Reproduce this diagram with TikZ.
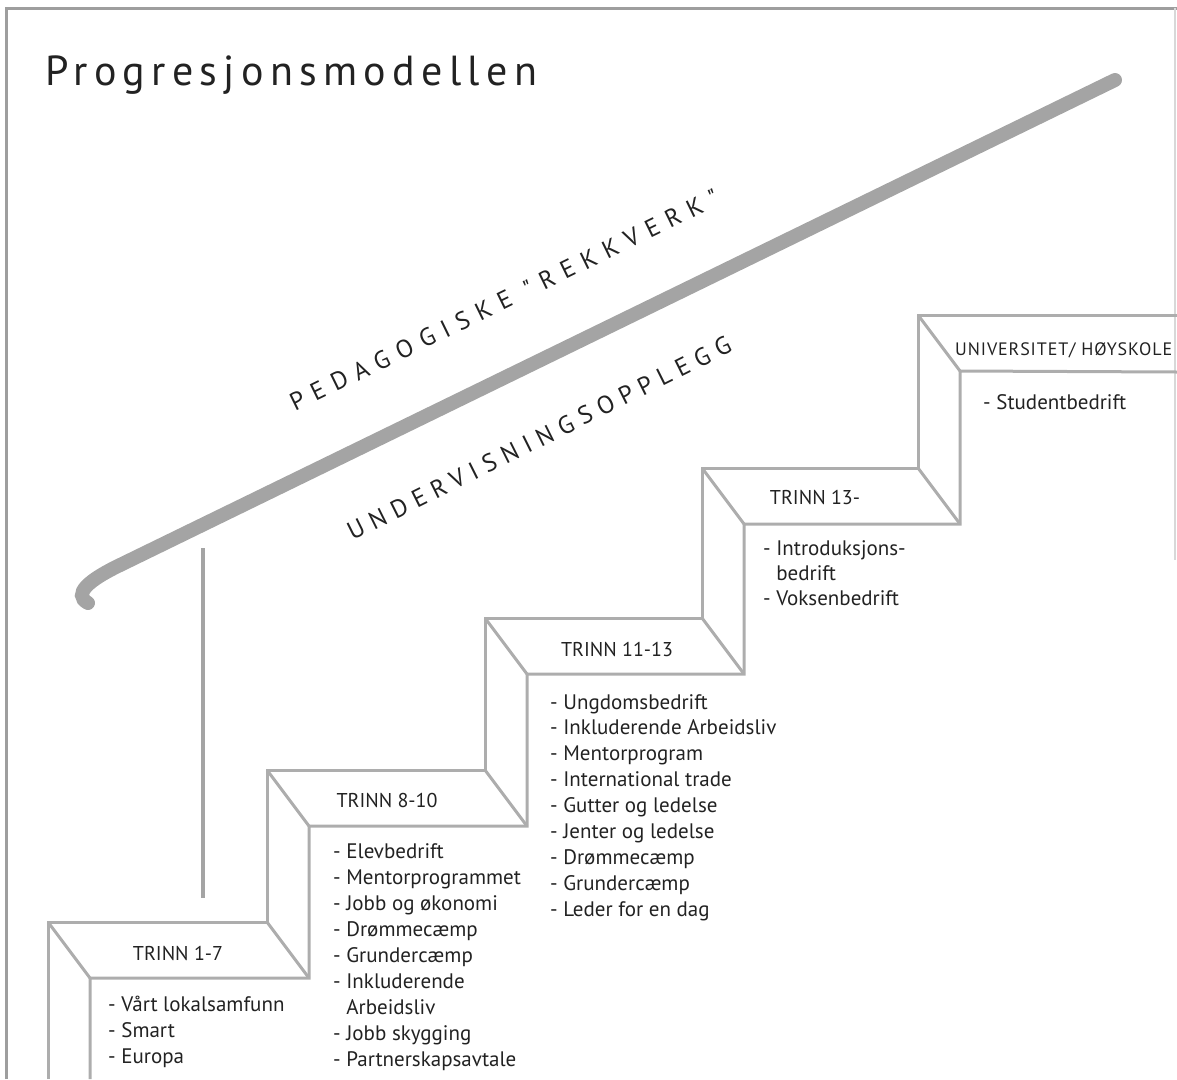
\documentclass[tikz,border=0pt]{standalone}
\usepackage{fontspec}
\setmainfont{PT Sans}
\newfontfamily\titlefont[LetterSpace=15]{PT Sans}
\newfontfamily\railfont[LetterSpace=36]{PT Sans}
\newfontfamily\teachfont[LetterSpace=30]{PT Sans}
\newfontfamily\unifont[LetterSpace=5]{PT Sans}
\usetikzlibrary{calc}
\definecolor{railgrey}{HTML}{A4A4A4}
\definecolor{linegrey}{HTML}{ADADAD}
\definecolor{framegrey}{HTML}{9E9E9E}
\definecolor{textgrey}{HTML}{222222}

\begin{document}
\begin{tikzpicture}[x=1pt,y=-1pt,
	stairline/.style={draw=linegrey, line width=3pt},
	item/.style={anchor=base west, inner sep=0pt, text=textgrey},
	stepname/.style={anchor=base, inner sep=0pt, text=textgrey}]
	\newcommand{\myfontlist}[1]{
		\fontsize{21}{24}\selectfont{#1}
	}\newcommand{\myfontstep}[1]{
		\fontsize{20}{24}\selectfont{#1}
	}%Page
	\useasboundingbox (0,0) rectangle (1177,1079);
	\draw[framegrey, line width=3pt] (6,1079) -- (6,8) -- (1177,8);
	\draw[framegrey!40, line width=1.5pt] (1175,8) -- (1175,560);
	%Title
	\node[anchor=base west, inner sep=0pt, text=textgrey] (title) at (45,85) {\titlefont\fontsize{42}{48}\selectfont Progresjonsmodellen};
	%Back corners of the steps, front corners lie below and to the right
	\foreach \i/\x/\y in {1/48/922, 2/267/770, 3/485/618, 4/702/468, 5/918/315} {
		\coordinate (B\i) at (\x,\y);
		\coordinate (F\i) at ($(B\i)+(42,56)$);
	}
	%Back line of the stair
	\draw[stairline] (48,1079) -- (B1) -- (B2 |- B1) -- (B2) -- (B3 |- B2) -- (B3)
		-- (B4 |- B3) -- (B4) -- (B5 |- B4) -- (B5) -- (1177,315);
	%Front line of the stair
	\draw[stairline] (90,1079) -- (F1) -- (F2 |- F1) -- (F2) -- (F3 |- F2) -- (F3)
		-- (F4 |- F3) -- (F4) -- (F5 |- F4) -- (F5) -- (1177,372);
	%Slanted edges of the treads
	\foreach \i/\j in {1/2,2/3,3/4,4/5} {
		\draw[stairline] (B\i) -- (F\i);
		\draw[stairline] (B\j |- B\i) -- (F\j |- F\i);
	}
	\draw[stairline] (B5) -- (F5);
	%Handrail and post
	\coordinate (railtop) at (1115,80);
	\coordinate (railbend) at (116,567);
	\coordinate (railend) at (88,603);
	\draw[railgrey, line width=14pt, line cap=round] (railtop) -- (railbend)
		.. controls (90,580) and (72,594) .. (railend);
	\coordinate (posttop) at (203,548);
	\coordinate (postfoot) at (203,898);
	\draw[railgrey, line width=4pt] (posttop) -- (postfoot);
	%Texts along the rail
	\node[anchor=base, rotate=26, inner sep=0pt, text=textgrey] (railtext) at (508,308) {\railfont\fontsize{25}{28}\selectfont PEDAGOGISKE "REKKVERK"};
	\node[anchor=base, rotate=26.5, inner sep=0pt, text=textgrey] (teachtext) at (543,446) {\teachfont\fontsize{25}{28}\selectfont UNDERVISNINGSOPPLEGG};
	%Names of the steps
	\node[stepname] (trinnA) at (178,960) {\myfontstep{TRINN 1-7}};
	\node[stepname] (trinnB) at (387,807) {\myfontstep{TRINN 8-10}};
	\node[stepname] (trinnC) at (617,656) {\myfontstep{TRINN 11-13}};
	\node[stepname] (trinnD) at (815,504) {\myfontstep{TRINN 13-}};
	\node[anchor=base west, inner sep=0pt, text=textgrey] (trinnE) at (955,355) {\unifont\fontsize{18}{20}\selectfont UNIVERSITET/ HØYSKOLE};
	%Lists under the steps
	\foreach \t [count=\k from 0] in {- Vårt lokalsamfunn, - Smart, - Europa}
		\node[item] (listA\k) at (108,{1011+26*\k}) {\myfontlist{\t}};
	\foreach \t [count=\k from 0] in {- Elevbedrift, - Mentorprogrammet, - Jobb og økonomi, - Drømmecæmp, - Grundercæmp, - Inkluderende, \phantom{- }Arbeidsliv, - Jobb skygging, - Partnerskapsavtale}
		\node[item] (listB\k) at (333,{858+26*\k}) {\myfontlist{\t}};
	\foreach \t [count=\k from 0] in {- Ungdomsbedrift, - Inkluderende Arbeidsliv, - Mentorprogram, - International trade, - Gutter og ledelse, - Jenter og ledelse, - Drømmecæmp, - Grundercæmp, - Leder for en dag}
		\node[item] (listC\k) at (550,{709+25.9*\k}) {\myfontlist{\t}};
	\foreach \t [count=\k from 0] in {- Introduksjons-, \phantom{- }bedrift, - Voksenbedrift}
		\node[item] (listD\k) at (763,{555+25*\k}) {\myfontlist{\t}};
	\node[item] (listE0) at (983,409) {\myfontlist{- Studentbedrift}};
\end{tikzpicture}
\end{document}
